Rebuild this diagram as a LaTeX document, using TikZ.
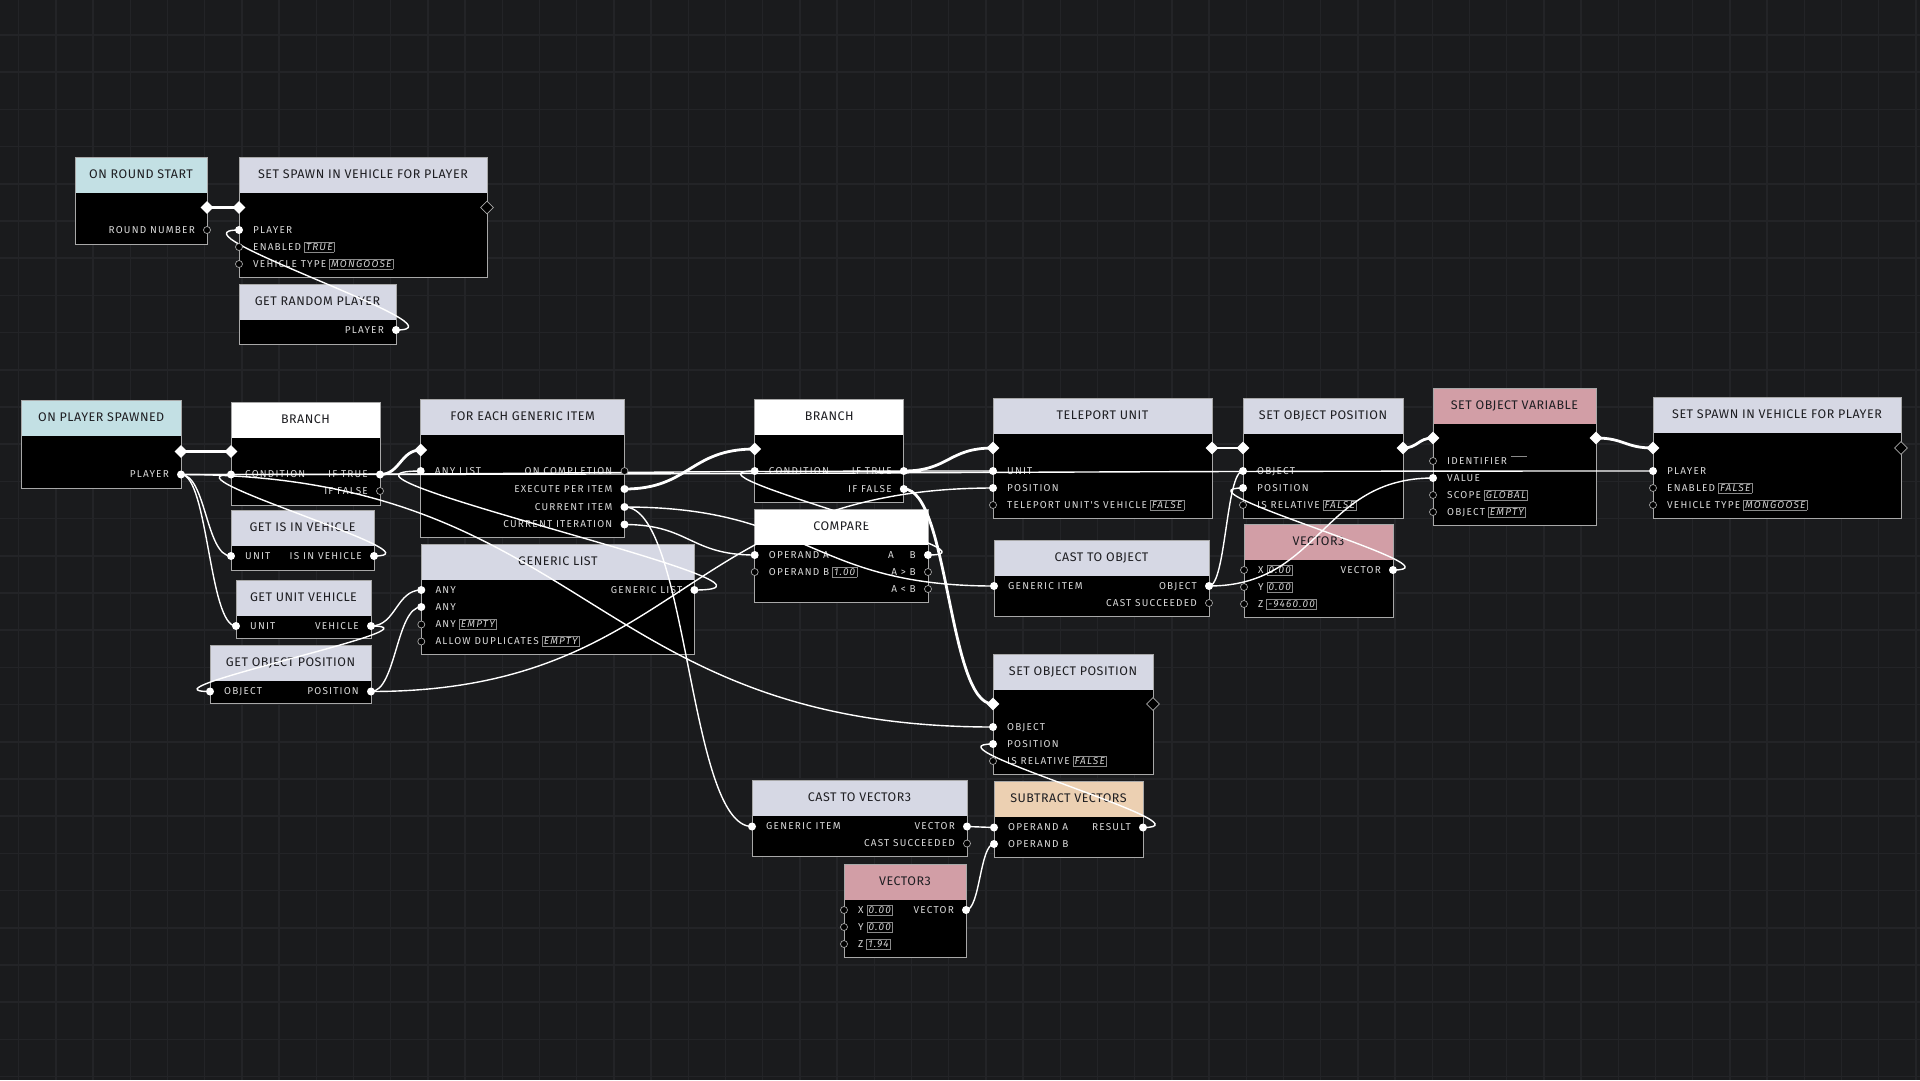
\documentclass[tikz,border=0pt]{standalone}
\usepackage{fontspec}
\setmainfont{Fira Sans}
\newfontfamily\hdrfont[LetterSpace=4]{Fira Sans}
\newfontfamily\bodyfont[LetterSpace=12]{Fira Sans}
\usetikzlibrary{shapes.geometric}
\definecolor{bg}{HTML}{1A1B1D}
\definecolor{gridc}{HTML}{232427}
\definecolor{frame}{HTML}{A8A8A8}
\definecolor{hcyan}{HTML}{C3E0E4}
\definecolor{hlav}{HTML}{D6D8E4}
\definecolor{hwhite}{HTML}{FFFFFF}
\definecolor{hpink}{HTML}{D29EA6}
\definecolor{hpeach}{HTML}{ECD0B2}
\definecolor{labelc}{HTML}{D8D8D8}
\definecolor{hdrtext}{HTML}{1E1E22}
\definecolor{porthollow}{HTML}{A8A8A8}
\definecolor{valframe}{HTML}{8A8A8A}
\definecolor{valtext}{HTML}{D0D0D0}
\newcounter{lc}
\newcommand\valbox[1]{\hspace{3pt}{\setlength\fboxsep{1.4pt}\setlength\fboxrule{0.5pt}\fcolorbox{valframe}{black}{\itshape\color{valtext}#1}}}
\newcommand\emptyval{\hspace{4pt}{\color{valframe}\rule[8pt]{16pt}{0.5pt}}}
\newcommand\gnode[7]{%
  \fill[black] (#2,#3) rectangle (#4,#5);
  \fill[#6] (#2,#3) rectangle (#4,#3+35.5);
  \draw[frame] (#2,#3) rectangle (#4,#5);
  \node[hdr] (#1) at ({(#2+#4)/2},#3+17.5) {#7};}
\newcommand\inp[4]{\coordinate (#1) at (#2,#3);
  \stepcounter{lc}\node[lbl,anchor=west] (lab\arabic{lc}) at (#2+14,#3) {#4};}
\newcommand\outp[4]{\coordinate (#1) at (#2,#3);
  \stepcounter{lc}\node[lbl,anchor=east] (lab\arabic{lc}) at (#2-12,#3) {#4};}
\newcommand\xport[3]{\coordinate (#1) at (#2,#3);}
\newcommand\wire[3]{\draw[wire] (#1) .. controls +(#3,0) and +(-#3,0) .. (#2);}
\newcommand\ewire[3]{\draw[ewire] (#1) .. controls +(#3,0) and +(-#3,0) .. (#2);}
\begin{document}
\begin{tikzpicture}[x=1pt,y=-1pt,
  hdr/.style={font=\hdrfont\fontsize{12.5}{14}\selectfont, text=hdrtext, inner sep=0pt, text height=8.6pt, text depth=0pt},
  lbl/.style={font=\bodyfont\fontsize{10}{12}\selectfont, text=labelc, inner sep=0pt, text height=6.9pt, text depth=0pt},
  frame/.style={draw=frame, line width=0.8pt},
  wire/.style={draw=white, line width=1.4pt},
  ewire/.style={draw=white, line width=2.8pt},
  gridline/.style={draw=gridc, line width=1.5pt},
  pf/.style={circle, fill=white, inner sep=0pt, minimum size=8pt},
  ph/.style={circle, draw=porthollow, fill=black, line width=0.7pt, inner sep=0pt, minimum size=7pt},
  ef/.style={diamond, fill=white, inner sep=0pt, minimum size=13pt},
  eh/.style={diamond, draw=porthollow, fill=black, line width=0.7pt, inner sep=0pt, minimum size=13pt}]
\useasboundingbox (0,0) rectangle (1920,1080);
\fill[bg] (0,0) rectangle (1920,1080);
\foreach \i in {0,...,51} {\draw[gridline] ({18.7+37.2*\i},0) -- ({18.7+37.2*\i},1080);}
\foreach \j in {0,...,28} {\draw[gridline] (0,{35+37.2*\j}) -- (1920,{35+37.2*\j});}

% ---------- nodes ----------
\gnode{ors}{75}{157}{207}{244}{hcyan}{ON ROUND START}
\xport{ors-ex}{207}{207.5}
\outp{ors-round}{207}{230}{ROUND NUMBER}

\gnode{sp1}{239}{157}{487}{277}{hlav}{SET SPAWN IN VEHICLE FOR PLAYER}
\xport{sp1-in}{239}{207.5}\xport{sp1-out}{487}{207.5}
\inp{sp1-player}{239}{230}{PLAYER}
\inp{sp1-en}{239}{247}{ENABLED\valbox{TRUE}}
\inp{sp1-vt}{239}{264}{VEHICLE TYPE\valbox{MONGOOSE}}

\gnode{grp}{239}{284}{396}{344}{hlav}{GET RANDOM PLAYER}
\outp{grp-player}{396}{330}{PLAYER}

\gnode{ops}{21.5}{400}{181}{488}{hcyan}{ON PLAYER SPAWNED}
\xport{ops-ex}{181}{451.5}
\outp{ops-player}{181}{474.5}{PLAYER}

\gnode{br1}{231}{402}{380}{505}{hwhite}{BRANCH}
\xport{br1-in}{231}{451.5}
\inp{br1-cond}{231}{474.5}{CONDITION}
\outp{br1-true}{380}{474.5}{IF TRUE}
\outp{br1-false}{380}{491}{IF FALSE}

\gnode{isv}{231}{510}{374}{570}{hlav}{GET IS IN VEHICLE}
\inp{isv-unit}{231}{556}{UNIT}
\outp{isv-out}{374}{556}{IS IN VEHICLE}

\gnode{guv}{236}{580}{371}{638}{hlav}{GET UNIT VEHICLE}
\inp{guv-unit}{236}{626}{UNIT}
\outp{guv-veh}{371}{626}{VEHICLE}

\gnode{gop}{210}{645}{371}{703}{hlav}{GET OBJECT POSITION}
\inp{gop-obj}{210}{691.5}{OBJECT}
\outp{gop-pos}{371}{691.5}{POSITION}

\gnode{fe}{420.7}{399}{624.5}{537}{hlav}{FOR EACH GENERIC ITEM}
\xport{fe-in}{420.7}{450}
\inp{fe-list}{420.7}{471}{ANY LIST}
\outp{fe-done}{624.5}{471}{ON COMPLETION}
\outp{fe-per}{624.5}{489}{EXECUTE PER ITEM}
\outp{fe-item}{624.5}{507}{CURRENT ITEM}
\outp{fe-iter}{624.5}{524.5}{CURRENT ITERATION}

\gnode{gl}{421.3}{544}{694.4}{654}{hlav}{GENERIC LIST}
\outp{gl-out}{694.4}{590}{GENERIC LIST}
\inp{gl-any1}{421.3}{590}{ANY}
\inp{gl-any2}{421.3}{607}{ANY}
\inp{gl-any3}{421.3}{624.5}{ANY\valbox{EMPTY}}
\inp{gl-dup}{421.3}{641.5}{ALLOW DUPLICATES\valbox{EMPTY}}

\gnode{br2}{754.7}{399}{903.8}{502}{hwhite}{BRANCH}
\xport{br2-in}{754.7}{449}
\inp{br2-cond}{754.7}{471}{CONDITION}
\outp{br2-true}{903.8}{471}{IF TRUE}
\outp{br2-false}{903.8}{489}{IF FALSE}

\gnode{cmp}{754.7}{509}{928}{602}{hwhite}{COMPARE}
\inp{cmp-opa}{754.7}{555}{OPERAND A}
\inp{cmp-opb}{754.7}{572}{OPERAND B\valbox{1.00}}
\outp{cmp-eq}{928}{555}{A\hspace{16pt}B}
\outp{cmp-gt}{928}{572}{A > B}
\outp{cmp-lt}{928}{589}{A < B}

\gnode{tp}{993}{398}{1212}{518}{hlav}{TELEPORT UNIT}
\xport{tp-in}{993}{448}\xport{tp-out}{1212}{448}
\inp{tp-unit}{993}{471}{UNIT}
\inp{tp-pos}{993}{488}{POSITION}
\inp{tp-veh}{993}{505}{TELEPORT UNIT'S VEHICLE\valbox{FALSE}}

\gnode{sop1}{1243}{398}{1403}{518}{hlav}{SET OBJECT POSITION}
\xport{sop1-in}{1243}{448}\xport{sop1-out}{1403}{448}
\inp{sop1-obj}{1243}{471}{OBJECT}
\inp{sop1-pos}{1243}{488}{POSITION}
\inp{sop1-rel}{1243}{505}{IS RELATIVE\valbox{FALSE}}

\gnode{sov}{1433}{388}{1596}{525}{hpink}{SET OBJECT VARIABLE}
\xport{sov-in}{1433}{438}\xport{sov-out}{1596}{438}
\inp{sov-id}{1433}{461}{IDENTIFIER\emptyval}
\inp{sov-value}{1433}{478}{VALUE}
\inp{sov-scope}{1433}{495}{SCOPE\valbox{GLOBAL}}
\inp{sov-obj}{1433}{512}{OBJECT\valbox{EMPTY}}

\gnode{sp2}{1653}{397}{1901}{518}{hlav}{SET SPAWN IN VEHICLE FOR PLAYER}
\xport{sp2-in}{1653}{448}\xport{sp2-out}{1901}{448}
\inp{sp2-player}{1653}{471}{PLAYER}
\inp{sp2-en}{1653}{488}{ENABLED\valbox{FALSE}}
\inp{sp2-vt}{1653}{505}{VEHICLE TYPE\valbox{MONGOOSE}}

\gnode{cto}{994}{540}{1209}{616}{hlav}{CAST TO OBJECT}
\inp{cto-gen}{994}{586}{GENERIC ITEM}
\outp{cto-obj}{1209}{586}{OBJECT}
\outp{cto-ok}{1209}{603}{CAST SUCCEEDED}

\gnode{v3a}{1244}{524}{1393}{617}{hpink}{VECTOR3}
\inp{v3a-x}{1244}{570}{X\valbox{0.00}}
\inp{v3a-y}{1244}{587}{Y\valbox{0.00}}
\inp{v3a-z}{1244}{604}{Z\valbox{-9460.00}}
\outp{v3a-vec}{1393}{570}{VECTOR}

\gnode{sop2}{993}{654}{1153}{774}{hlav}{SET OBJECT POSITION}
\xport{sop2-in}{993}{704}\xport{sop2-out}{1153}{704}
\inp{sop2-obj}{993}{727}{OBJECT}
\inp{sop2-pos}{993}{744}{POSITION}
\inp{sop2-rel}{993}{761}{IS RELATIVE\valbox{FALSE}}

\gnode{ctv}{752}{780}{967}{856}{hlav}{CAST TO VECTOR3}
\inp{ctv-gen}{752}{826.5}{GENERIC ITEM}
\outp{ctv-vec}{967}{826.5}{VECTOR}
\outp{ctv-ok}{967}{843.5}{CAST SUCCEEDED}

\gnode{sub}{994}{781}{1143}{857}{hpeach}{SUBTRACT VECTORS}
\inp{sub-opa}{994}{827.5}{OPERAND A}
\inp{sub-opb}{994}{844}{OPERAND B}
\outp{sub-res}{1143}{827.5}{RESULT}

\gnode{v3b}{844}{864}{966}{957}{hpink}{VECTOR3}
\inp{v3b-x}{844}{910}{X\valbox{0.00}}
\inp{v3b-y}{844}{927}{Y\valbox{0.00}}
\inp{v3b-z}{844}{944}{Z\valbox{1.94}}
\outp{v3b-vec}{966}{910}{VECTOR}

% ---------- execution wires ----------
\ewire{ors-ex}{sp1-in}{16}
\ewire{ops-ex}{br1-in}{25}
\ewire{br1-true}{fe-in}{20}
\ewire{fe-per}{br2-in}{65}
\ewire{br2-true}{tp-in}{45}
\ewire{tp-out}{sop1-in}{15}
\ewire{sop1-out}{sov-in}{15}
\ewire{sov-out}{sp2-in}{28}
\ewire{br2-false}{sop2-in}{45}

% ---------- data wires ----------
\wire{grp-player}{sp1-player}{78}
\wire{ops-player}{isv-unit}{25}
\wire{ops-player}{guv-unit}{27}
\wire{isv-out}{br1-cond}{72}
\wire{guv-veh}{gl-any1}{25}
\wire{guv-veh}{gop-obj}{80}
\wire{gop-pos}{gl-any2}{25}
\wire{gop-pos}{tp-pos}{311}
\wire{gl-out}{fe-list}{137}
\wire{fe-item}{cto-gen}{185}
\wire{fe-item}{ctv-gen}{64}
\wire{fe-iter}{cmp-opa}{65}
\wire{cmp-eq}{br2-cond}{87}
\wire{ops-player}{tp-unit}{406}
\wire{ops-player}{sp2-player}{736}
\wire{ops-player}{sop2-obj}{406}
\wire{cto-obj}{sop1-obj}{17}
\wire{cto-obj}{sov-value}{112}
\wire{v3a-vec}{sop1-pos}{75}
\wire{ctv-vec}{sub-opa}{14}
\wire{v3b-vec}{sub-opb}{14}
\wire{sub-res}{sop2-pos}{75}

% ---------- ports ----------
\foreach \p in {sp1-player,grp-player,ops-player,br1-cond,br1-true,isv-unit,isv-out,guv-unit,guv-veh,gop-obj,gop-pos,fe-list,fe-per,fe-item,fe-iter,gl-out,gl-any1,gl-any2,br2-cond,br2-true,br2-false,cmp-opa,cmp-eq,tp-unit,tp-pos,sop1-obj,sop1-pos,sov-value,sp2-player,cto-gen,cto-obj,v3a-vec,sop2-obj,sop2-pos,ctv-gen,ctv-vec,sub-opa,sub-opb,sub-res,v3b-vec}
  {\node[pf] (m-\p) at (\p) {};}
\foreach \p in {ors-round,sp1-en,sp1-vt,br1-false,fe-done,gl-any3,gl-dup,cmp-opb,cmp-gt,cmp-lt,tp-veh,sop1-rel,sov-id,sov-scope,sov-obj,sp2-en,sp2-vt,cto-ok,v3a-x,v3a-y,v3a-z,sop2-rel,ctv-ok,v3b-x,v3b-y,v3b-z}
  {\node[ph] (m-\p) at (\p) {};}
\foreach \p in {ors-ex,sp1-in,ops-ex,br1-in,fe-in,br2-in,tp-in,tp-out,sop1-in,sop1-out,sov-in,sov-out,sp2-in,sop2-in}
  {\node[ef] (m-\p) at (\p) {};}
\foreach \p in {sp1-out,sp2-out,sop2-out}
  {\node[eh] (m-\p) at (\p) {};}
\end{tikzpicture}
\end{document}
